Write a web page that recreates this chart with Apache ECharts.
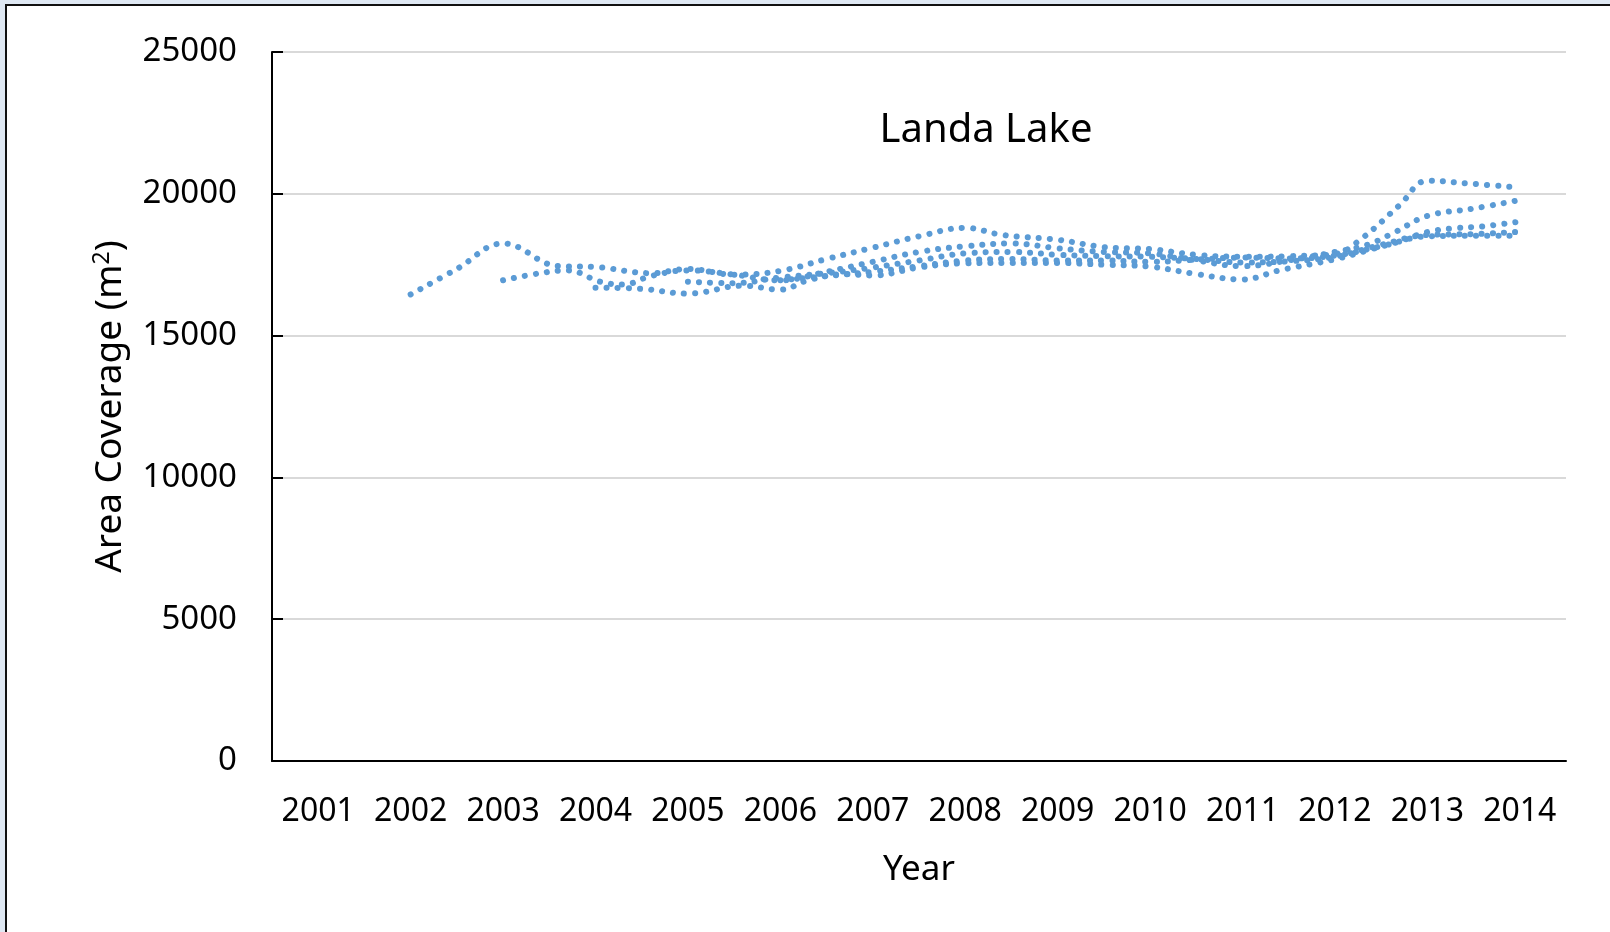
<!DOCTYPE html>
<html>
<head>
<meta charset="utf-8">
<title>Landa Lake</title>
<script src="https://cdn.jsdelivr.net/npm/echarts@6/dist/echarts.min.js"></script>
<style>
  html, body { margin: 0; padding: 0; background: #dfe8f3; }
  #container { width: 1610px; height: 932px; }
</style>
</head>
<body>
<div id="container"></div>
<script>
// year labels on the category axis
var years = ['2001', '2002', '2003', '2004', '2005', '2006', '2007',
	'2008', '2009', '2010', '2011', '2012', '2013', '2014'];
var yTicks = [0, 5000, 10000, 15000, 20000, 25000];

// dotted trend lines, [year, area]
var lineA = [[2002, 16450], [2002.5, 17350], [2003, 18250], [2003.6, 17450], [2004, 17420],
	[2004.6, 17200], [2005, 17350], [2005.5, 17150], [2006, 17280], [2006.5, 17700],
	[2007, 18100], [2007.5, 18500], [2008, 18800], [2008.4, 18550], [2009, 18380],
	[2009.5, 18120], [2010, 18050], [2010.5, 17850], [2011, 17780], [2011.5, 17800],
	[2012, 17880], [2012.3, 18450], [2012.7, 19600], [2013, 20460], [2013.5, 20350], [2014, 20220]];
var lineB = [[2003, 16950], [2003.4, 17200], [2003.7, 17300], [2004.05, 16900], [2004.3, 16800],
	[2004.6, 17100], [2005, 17300], [2005.5, 17150], [2006, 16950], [2006.5, 17250],
	[2007, 17600], [2007.5, 17950], [2008, 18150], [2008.5, 18250], [2009, 18080],
	[2009.5, 17950], [2010, 17900], [2010.5, 17650], [2011, 17450], [2011.5, 17650],
	[2012, 17950], [2012.35, 18200], [2012.65, 18650], [2013, 19220], [2013.5, 19480], [2014, 19780]];
var lineC = [[2004, 16690], [2004.5, 16650], [2005, 16480], [2005.6, 16760], [2006, 16620],
	[2006.3, 16950], [2006.7, 17170], [2007, 17120], [2007.5, 17400], [2008, 17550],
	[2008.5, 17560], [2009, 17560], [2009.5, 17500], [2010, 17430], [2010.5, 17170],
	[2011, 16980], [2011.4, 17300], [2012, 17690], [2012.4, 18050], [2012.7, 18320],
	[2013, 18650], [2013.3, 18790], [2013.6, 18850], [2014, 19020]];
var lineD = [[2005, 16900], [2005.5, 16850], [2006, 17050], [2006.5, 17200], [2007, 17400],
	[2007.5, 17650], [2008, 17900], [2008.5, 17950], [2009, 17850], [2009.5, 17800],
	[2010, 17780], [2010.5, 17700], [2011, 17580], [2011.5, 17620], [2012, 17780],
	[2012.5, 18200], [2013, 18550], [2013.5, 18580], [2014, 18660]];
var lineE = [[2006, 16950], [2006.5, 17100], [2007, 17250], [2007.5, 17450], [2008, 17650],
	[2008.5, 17700], [2009, 17650], [2009.5, 17650], [2010, 17600], [2010.5, 17680],
	[2011, 17750], [2011.5, 17720], [2012, 17820], [2012.5, 18150], [2013, 18500],
	[2013.5, 18520], [2014, 18520]];

var myChart = echarts.init(document.getElementById('container'));

function dotted(name, data) {
	return {
		name: name,
		type: 'line',
		xAxisIndex: 1,
		data: data,
		smooth: 0.4,
		symbol: 'none',
		lineStyle: {
			color: '#5b9bd5',
			width: 6,
			type: [0.1, 11],
			cap: 'round'
		}
	};
}

var font = 'Noto Sans';
option = {
	backgroundColor: '#dfe8f3',
	graphic: [{
		type: 'rect',
		shape: { x: 6, y: 5, width: 1620, height: 960 },
		style: { fill: '#ffffff', stroke: '#111111', lineWidth: 2 },
		z: -10
	}],
	title: {
		text: 'Landa Lake',
		left: 981,
		top: 106,
		textAlign: 'center',
		textStyle: { fontFamily: font, fontSize: 40, fontWeight: 'normal', color: '#000' }
	},
	grid: { left: 272, right: 44, top: 52, bottom: 171 },
	xAxis: [{
		type: 'category',
		data: years,
		boundaryGap: true,
		name: 'Year',
		nameLocation: 'middle',
		nameGap: 92,
		nameTextStyle: { fontFamily: font, fontSize: 35, color: '#000' },
		axisLine: { lineStyle: { color: '#000', width: 2 } },
		axisTick: { show: false },
		axisLabel: { fontFamily: font, fontSize: 32, color: '#000', margin: 35, interval: 0, hideOverlap: false }
	}, {
		type: 'value',
		min: 2000.5,
		max: 2014.5,
		show: false
	}],
	yAxis: {
		type: 'value',
		min: 0,
		max: 25000,
		interval: 5000,
		name: 'Area Coverage (m{sup|2})',
		nameLocation: 'middle',
		nameGap: 143,
		nameTextStyle: {
			fontFamily: font, fontSize: 37, color: '#000',
			rich: { sup: { fontFamily: font, fontSize: 23, color: '#000', verticalAlign: 'top', padding: [0, 0, 15, 0] } }
		},
		axisLine: { show: true, lineStyle: { color: '#000', width: 2 } },
		axisTick: { show: true, inside: true, length: 11, lineStyle: { color: '#000', width: 2 } },
		splitLine: { lineStyle: { color: '#d9d9d9', width: 2 } },
		axisLabel: {
			fontFamily: font, fontSize: 33, color: '#000', margin: 35,
			formatter: function(v) { return yTicks.indexOf(v) >= 0 ? String(v) : ''; }
		}
	},
	series: [
		dotted('A', lineA),
		dotted('B', lineB),
		dotted('C', lineC),
		dotted('D', lineD),
		dotted('E', lineE)
	]
};
myChart.setOption(option);
</script>
</body>
</html>
